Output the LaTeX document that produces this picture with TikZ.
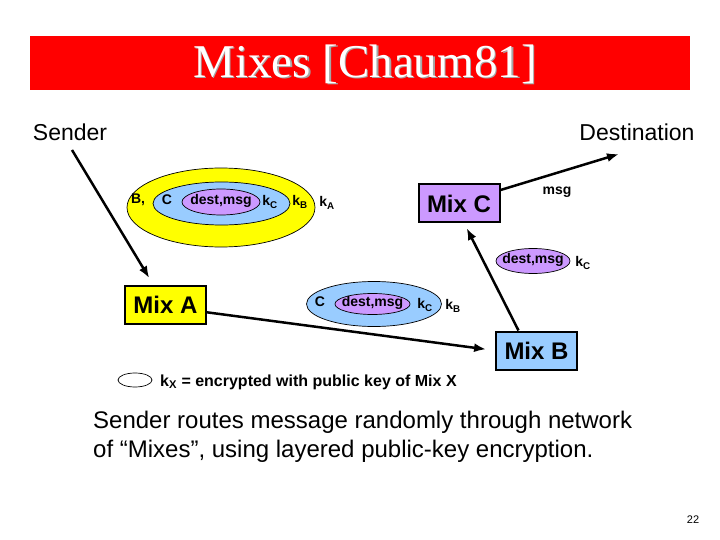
\documentclass[tikz,border=0pt]{standalone}
\usepackage{fontspec}
\setmainfont{Liberation Sans}
\newfontfamily\titlefont{Liberation Serif}
\usetikzlibrary{positioning,arrows,arrows.meta,shapes.geometric}

\definecolor{mixyellow}{RGB}{255,255,0}
\definecolor{mixblue}{RGB}{153,204,255}
\definecolor{mixpurple}{RGB}{204,153,255}

\tikzset{
  mix/.style={draw=black, line width=2pt, minimum width=81pt, minimum height=38pt,
    inner sep=0pt, font=\fontsize{24}{24}\selectfont\bfseries},
  lbl/.style={inner sep=0pt, font=\fontsize{14}{14}\selectfont\bfseries},
  route/.style={-{Latex[length=12pt,width=9pt]}, line width=2.5pt},
  layer/.style={draw=black, line width=0.7pt},
}

\begin{document}
\begin{tikzpicture}[x=1pt,y=-1pt]
\useasboundingbox (0,0) rectangle (720,540);
% title bar
\fill[red] (30,36) rectangle (690,90);
\node (titleshadow) at (366.5,65.5) {\titlefont\fontsize{47}{47}\selectfont\color{black!35}Mixes [Chaum81]};
\node (title) at (365,64) {\titlefont\fontsize{47}{47}\selectfont\color{white}Mixes [Chaum81]};
\node (sender) at (70,132) {\fontsize{23}{23}\selectfont Sender};
\node (dest) at (637,132) {\fontsize{23}{23}\selectfont Destination};

% mixes
\node[mix, fill=mixyellow] (mixA) at (165.5,305) {Mix A};
\node[mix, fill=mixblue] (mixB) at (536.5,350.5) {Mix B};
\node[mix, fill=mixpurple] (mixC) at (459,203.5) {Mix C};

% routes
\coordinate (s0) at (72,150);
\coordinate (d0) at (619,154);
\draw[route, shorten >=8pt] (s0) -- (mixA);
\draw[route, shorten >=9pt] (mixA.-10) -- (mixB.west);
\draw[route, shorten >=5pt] (mixB.132) -- (mixC.-75);
\draw[route] (mixC.18) -- (d0);

% onion at sender
\draw[layer, fill=mixyellow] (221,207.5) ellipse (94 and 39.5);
\draw[layer, fill=mixblue] (221.5,203.5) ellipse (68.5 and 21.5);
\draw[layer, fill=mixpurple] (221,202) ellipse (39 and 13);
\node[lbl] (bA) at (138,200) {B,};
\node[lbl] (cA) at (167,200) {C};
\node[lbl] (dmA) at (221,201) {dest,msg};
\node[lbl] (kcA) at (270,202) {k\textsubscript{C}};
\node[lbl] (kbA) at (300,202) {k\textsubscript{B}};
\node[lbl] (kaA) at (327,203) {k\textsubscript{A}};

% onion after Mix A
\draw[layer, fill=mixblue] (374,304) ellipse (67.5 and 22.5);
\draw[layer, fill=mixpurple] (372.5,304) ellipse (37.5 and 10.5);
\node[lbl] (cB) at (320,302) {C};
\node[lbl] (dmB) at (372.5,303) {dest,msg};
\node[lbl] (kcB) at (425,305) {k\textsubscript{C}};
\node[lbl] (kbB) at (453,306) {k\textsubscript{B}};

% onion after Mix B
\draw[layer, fill=mixpurple] (533,261) ellipse (37 and 12.5);
\node[lbl] (dmC) at (533,260) {dest,msg};
\node[lbl] (kcC) at (583,263) {k\textsubscript{C}};

\node[lbl] (msgD) at (557,192) {msg};

% legend
\draw[layer, fill=white] (135,380) ellipse (17 and 7);
\node[lbl, anchor=west, font=\fontsize{16}{16}\selectfont\bfseries] (legend) at (160,382)
  {k\textsubscript{X} = encrypted with public key of Mix X};

% caption
\node[anchor=base west, inner sep=0pt] (line1) at (93,428)
  {\fontsize{24}{24}\selectfont Sender routes message randomly through network};
\node[anchor=base west, inner sep=0pt] (line2) at (93,457)
  {\fontsize{24}{24}\selectfont of “Mixes”, using layered public-key encryption.};
\node (pageno) at (693,520) {\fontsize{11}{11}\selectfont 22};
\end{tikzpicture}
\end{document}
